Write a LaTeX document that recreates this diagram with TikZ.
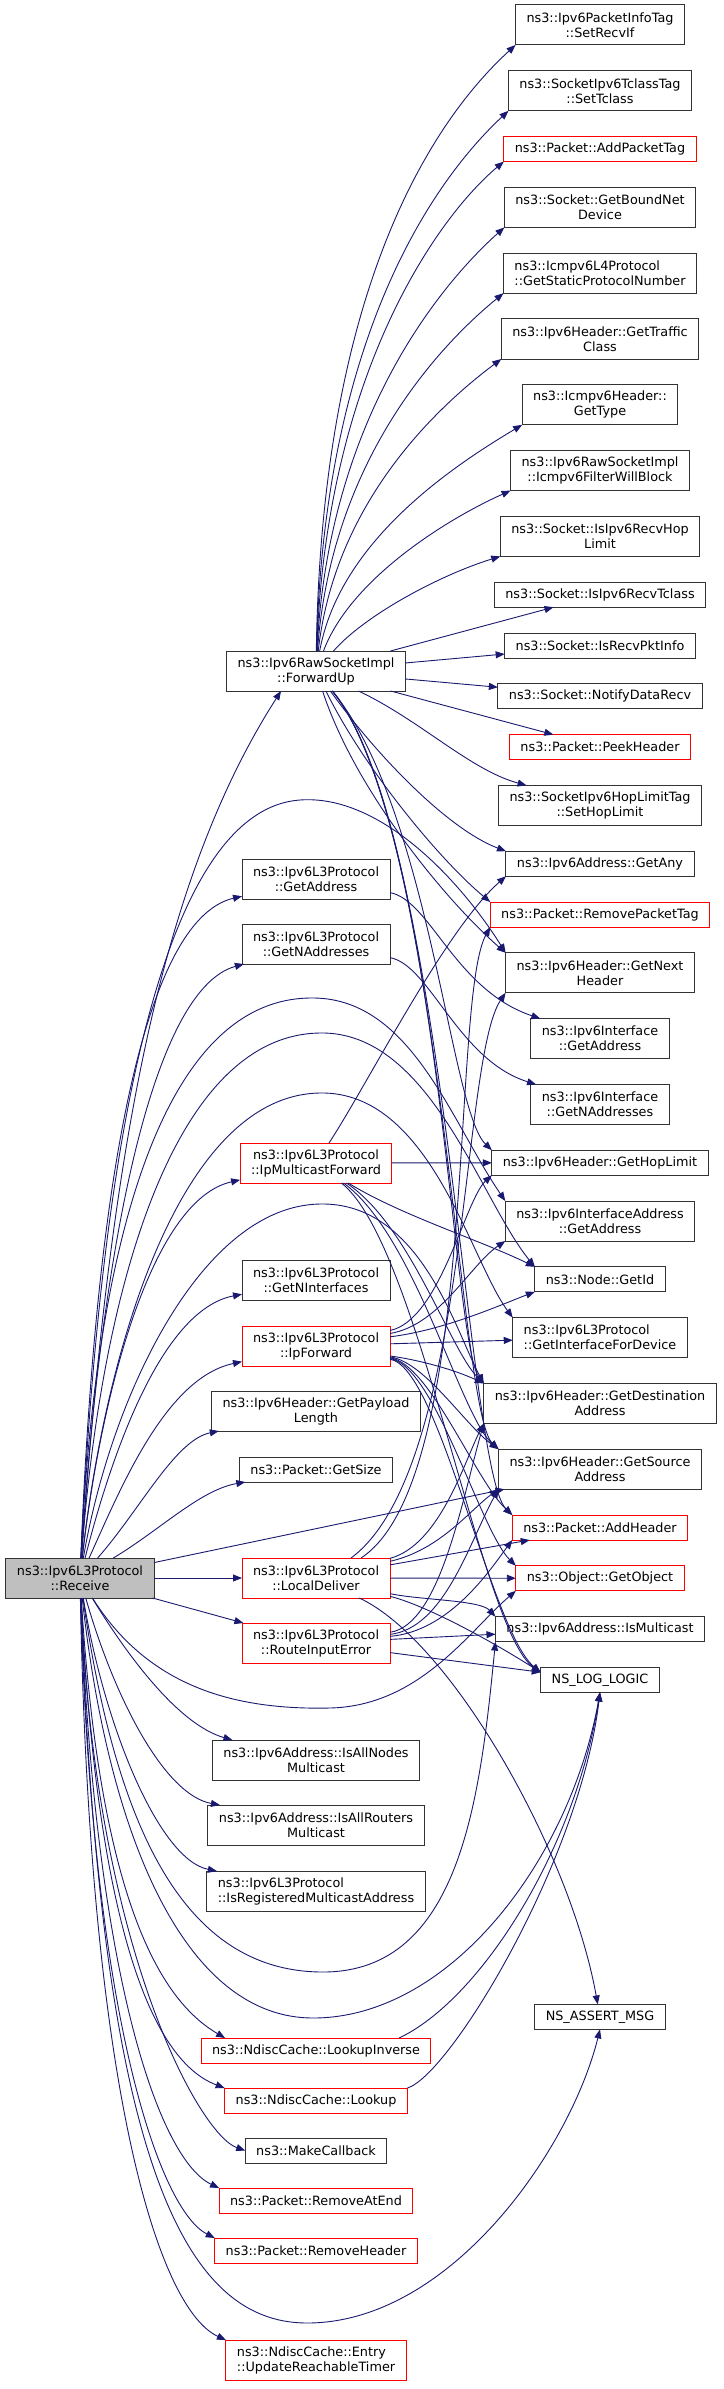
\documentclass[tikz,border=0pt]{standalone}
\usepackage{fontspec}
\setmainfont{DejaVu Sans}
\usepackage{xcolor}
\usepackage{tikz}
\usetikzlibrary{arrows.meta,positioning}
\definecolor{edgeblue}{HTML}{191970}
\definecolor{rootgrey}{HTML}{BFBFBF}

\begin{document}
\begin{tikzpicture}[x=1pt, y=-1pt, node distance=25.8pt,
  func/.style={rectangle, draw=black!80, fill=white, line width=1pt, outer sep=0pt, inner xsep=11pt, inner ysep=3pt, minimum height=25pt, align=center, font=\fontsize{12.8}{15}\selectfont},
  two/.style={minimum height=40pt},
  trunc/.style={draw=red},
  root/.style={fill=rootgrey},
  line/.style={draw=edgeblue, line width=0.9pt, -{Triangle[length=9pt, width=7pt]}}]

  \useasboundingbox (0,0) rectangle (723,2389);

  % Nodes
  \node [func, two, root] (recv) at (80,1578) {ns3::Ipv6L3Protocol\\::Receive};

  \node [func, two, trunc, right=88pt of recv] (localdeliver) {ns3::Ipv6L3Protocol\\::LocalDeliver};
  \node [func, above=76pt of localdeliver] (getsize) {ns3::Packet::GetSize};
  \node [func, two, above=26pt of getsize] (paylen) {ns3::Ipv6Header::GetPayload\\Length};
  \node [func, two, trunc, above=25pt of paylen] (ipfwd) {ns3::Ipv6L3Protocol\\::IpForward};
  \node [func, two, above=26pt of ipfwd] (nifaces) {ns3::Ipv6L3Protocol\\::GetNInterfaces};
  \node [func, two, trunc, above=77pt of nifaces] (mcastfwd) {ns3::Ipv6L3Protocol\\::IpMulticastForward};
  \node [func, two, above=179pt of mcastfwd] (l3naddr) {ns3::Ipv6L3Protocol\\::GetNAddresses};
  \node [func, two, above=25pt of l3naddr] (l3addr) {ns3::Ipv6L3Protocol\\::GetAddress};
  \node [func, two, above=168pt of l3addr] (fwdup) {ns3::Ipv6RawSocketImpl\\::ForwardUp};
  \node [func, two, trunc, below=25pt of localdeliver] (routeerr) {ns3::Ipv6L3Protocol\\::RouteInputError};
  \node [func, two, below=77pt of routeerr] (allnodes) {ns3::Ipv6Address::IsAllNodes\\Multicast};
  \node [func, two, below=25pt of allnodes] (allrouters) {ns3::Ipv6Address::IsAllRouters\\Multicast};
  \node [func, two, align=left, below=26pt of allrouters] (regmcast) {ns3::Ipv6L3Protocol\\::IsRegisteredMulticastAddress};
  \node [func, trunc, below=127pt of regmcast] (lookupinv) {ns3::NdiscCache::LookupInverse};
  \node [func, trunc, below=25pt of lookupinv] (lookup) {ns3::NdiscCache::Lookup};
  \node [func, below=25pt of lookup] (makecb) {ns3::MakeCallback};
  \node [func, trunc, below=25pt of makecb] (rmatend) {ns3::Packet::RemoveAtEnd};
  \node [func, trunc, below=25pt of rmatend] (rmheader) {ns3::Packet::RemoveHeader};
  \node [func, two, trunc, align=left, below=77pt of rmheader] (reachtimer) {ns3::NdiscCache::Entry\\::UpdateReachableTimer};

  \node [func, two] (setrecvif) at (600,25) {ns3::Ipv6PacketInfoTag\\::SetRecvIf};
  \node [func, two, below=of setrecvif] (settclass) {ns3::SocketIpv6TclassTag\\::SetTclass};
  \node [func, trunc, below=of settclass] (addtag) {ns3::Packet::AddPacketTag};
  \node [func, two, below=of addtag] (boundnet) {ns3::Socket::GetBoundNet\\Device};
  \node [func, two, align=left, below=of boundnet] (protonum) {ns3::Icmpv6L4Protocol\\::GetStaticProtocolNumber};
  \node [func, two, below=of protonum] (tclass) {ns3::Ipv6Header::GetTraffic\\Class};
  \node [func, two, below=of tclass] (icmptype) {ns3::Icmpv6Header::\\GetType};
  \node [func, two, below=of icmptype] (filterblock) {ns3::Ipv6RawSocketImpl\\::Icmpv6FilterWillBlock};
  \node [func, two, below=of filterblock] (recvhop) {ns3::Socket::IsIpv6RecvHop\\Limit};
  \node [func, below=of recvhop] (recvtclass) {ns3::Socket::IsIpv6RecvTclass};
  \node [func, below=of recvtclass] (pktinfo) {ns3::Socket::IsRecvPktInfo};
  \node [func, below=of pktinfo] (notifyrecv) {ns3::Socket::NotifyDataRecv};
  \node [func, trunc, below=of notifyrecv] (peekheader) {ns3::Packet::PeekHeader};
  \node [func, two, below=of peekheader] (sethoplimit) {ns3::SocketIpv6HopLimitTag\\::SetHopLimit};
  \node [func, below=of sethoplimit] (getany) {ns3::Ipv6Address::GetAny};
  \node [func, trunc, below=of getany] (rmtag) {ns3::Packet::RemovePacketTag};
  \node [func, two, below=of rmtag] (nextheader) {ns3::Ipv6Header::GetNext\\Header};
  \node [func, two, below=of nextheader] (ifaddr) {ns3::Ipv6Interface\\::GetAddress};
  \node [func, two, below=of ifaddr] (ifnaddr) {ns3::Ipv6Interface\\::GetNAddresses};
  \node [func, below=of ifnaddr] (hoplimit) {ns3::Ipv6Header::GetHopLimit};
  \node [func, two, below=of hoplimit] (ifaceaddr) {ns3::Ipv6InterfaceAddress\\::GetAddress};
  \node [func, below=of ifaceaddr] (getid) {ns3::Node::GetId};
  \node [func, two, align=left, below=of getid] (ifacefordev) {ns3::Ipv6L3Protocol\\::GetInterfaceForDevice};
  \node [func, two, below=of ifacefordev] (dstaddr) {ns3::Ipv6Header::GetDestination\\Address};
  \node [func, two, below=of dstaddr] (srcaddr) {ns3::Ipv6Header::GetSource\\Address};
  \node [func, trunc, below=of srcaddr] (addheader) {ns3::Packet::AddHeader};
  \node [func, trunc, below=of addheader] (getobject) {ns3::Object::GetObject};
  \node [func, below=of getobject] (ismcast) {ns3::Ipv6Address::IsMulticast};
  \node [func, below=of ismcast] (loglogic) {NS\_LOG\_LOGIC};
  \node [func, below=312pt of loglogic] (assertmsg) {NS\_ASSERT\_MSG};

  % Edges from Receive
  \path [line] (recv) .. controls (110,1150) and (160,880) .. ([xshift=-35pt]fwdup.south);
  \path [line] (recv) .. controls (95,1200) and (140,920) .. (l3addr);
  \path [line] (recv) .. controls (100,1260) and (150,990) .. (l3naddr);
  \path [line] (recv) .. controls (100,1400) and (150,1200) .. (mcastfwd);
  \path [line] (recv) .. controls (110,1460) and (160,1310) .. (nifaces);
  \path [line] (recv) .. controls (120,1490) and (165,1378) .. (ipfwd);
  \path [line] (recv) .. controls (140,1510) and (175,1440) .. (paylen);
  \path [line] (recv) .. controls (160,1530) and (200,1490) .. (getsize);
  \path [line] (recv) -- (localdeliver);
  \path [line] (recv) -- (routeerr);
  \path [line] (recv) .. controls (130,1660) and (180,1725) .. ([xshift=20pt]allnodes.north west);
  \path [line] (recv) .. controls (115,1700) and (165,1795) .. ([xshift=12pt]allrouters.north west);
  \path [line] (recv) .. controls (105,1730) and (160,1860) .. ([xshift=10pt]regmcast.north west);
  \path [line] (recv) .. controls (100,1900) and (160,2000) .. ([xshift=24pt]lookupinv.north west);
  \path [line] (recv) .. controls (97,1920) and (150,2060) .. (lookup.north west);
  \path [line] (recv) .. controls (95,1950) and (200,2135) .. (makecb.west);
  \path [line] (recv) .. controls (95,1980) and (160,2160) .. (rmatend.north west);
  \path [line] (recv) .. controls (92,2020) and (160,2210) .. (rmheader.north west);
  \path [line] (recv) .. controls (90,2100) and (160,2310) .. (reachtimer.north west);

  \path [line] (recv) .. controls (100,1150) and (160,810) .. (300,800) .. controls (380,794) and (460,880) .. (nextheader.north west);
  \path [line] (recv) .. controls (95,1250) and (160,1000) .. (310,998) .. controls (410,996) and (450,1120) .. (ifaceaddr.north west);
  \path [line] (recv) .. controls (100,1300) and (170,1035) .. (320,1033) .. controls (430,1031) and (480,1200) .. (getid.north west);
  \path [line] (recv) .. controls (105,1350) and (180,1095) .. (320,1093) .. controls (430,1091) and (470,1260) .. (ifacefordev.north west);
  \path [line] (recv) .. controls (110,1400) and (200,1206) .. (320,1204) .. controls (420,1202) and (455,1330) .. (dstaddr.north west);
  \path [line] (recv) -- (srcaddr);
  \path [line] (recv) .. controls (150,1690) and (240,1710) .. (330,1708) .. controls (420,1706) and (470,1630) .. (getobject.south west);
  \path [line] (recv) .. controls (115,1820) and (180,1972) .. (323,1972) .. controls (460,1972) and (480,1800) .. (ismcast.south west);
  \path [line] (recv) .. controls (110,1850) and (190,2018) .. (313,2018) .. controls (450,2018) and (570,1860) .. (loglogic.south);
  \path [line] (recv) .. controls (100,2150) and (180,2323) .. (307,2323) .. controls (450,2323) and (570,2150) .. (assertmsg.south);

  % Edges from ForwardUp
  \path [line] (fwdup) .. controls (322,260) and (450,105) .. (setrecvif.south west);
  \path [line] (fwdup) .. controls (324,320) and (445,170) .. (settclass.south west);
  \path [line] (fwdup) .. controls (326,370) and (440,215) .. (addtag.south west);
  \path [line] (fwdup) .. controls (328,420) and (440,285) .. (boundnet.south west);
  \path [line] (fwdup) .. controls (331,460) and (440,345) .. (protonum.south west);
  \path [line] (fwdup) .. controls (335,500) and (440,405) .. (tclass.south west);
  \path [line] (fwdup) .. controls (340,540) and (455,465) .. (icmptype.south west);
  \path [line] (fwdup) .. controls (350,580) and (445,520) .. (filterblock.south west);
  \path [line] (fwdup) .. controls (365,615) and (440,575) .. (recvhop.south west);
  \path [line] (fwdup) -- (recvtclass);
  \path [line] (fwdup) -- (pktinfo);
  \path [line] (fwdup) -- (notifyrecv);
  \path [line] (fwdup) -- (peekheader);
  \path [line] (fwdup) .. controls (420,720) and (470,770) .. (sethoplimit);
  \path [line] (fwdup) .. controls (380,760) and (450,830) .. (getany.north west);
  \path [line] (fwdup) .. controls (365,770) and (440,860) .. (rmtag.north west);
  \path [line] (fwdup) .. controls (355,790) and (445,900) .. (nextheader.north west);
  \path [line] (fwdup) .. controls (430,810) and (450,1110) .. (hoplimit.north west);
  \path [line] (fwdup) .. controls (438,820) and (452,1340) .. (dstaddr.north west);
  \path [line] (fwdup) .. controls (442,825) and (458,1410) .. (srcaddr.north west);
  \path [line] (fwdup) .. controls (446,830) and (466,1470) .. (addheader.north west);

  % Edges from the other callers
  \path [line] (l3addr) .. controls (430,900) and (455,990) .. (ifaddr);
  \path [line] (l3naddr) .. controls (430,965) and (458,1060) .. (ifnaddr);

  \path [line] (mcastfwd) -- (hoplimit);
  \path [line] (mcastfwd) .. controls (370,1080) and (445,930) .. (getany.south west);
  \path [line] (mcastfwd) .. controls (400,1215) and (480,1240) .. (getid.north west);
  \path [line] (mcastfwd) .. controls (410,1225) and (450,1350) .. (dstaddr.north west);
  \path [line] (mcastfwd) .. controls (415,1235) and (460,1415) .. (srcaddr.north west);
  \path [line] (mcastfwd) .. controls (420,1245) and (480,1630) .. ([yshift=-5pt]loglogic.north west);

  \path [line] (ipfwd) .. controls (440,1320) and (465,1200) .. (hoplimit.south west);
  \path [line] (ipfwd) .. controls (440,1325) and (470,1265) .. (ifaceaddr.south west);
  \path [line] (ipfwd) .. controls (445,1330) and (500,1305) .. (getid.south west);
  \path [line] (ipfwd) -- (ifacefordev);
  \path [line] (ipfwd) .. controls (420,1360) and (455,1370) .. (dstaddr.north west);
  \path [line] (ipfwd) .. controls (425,1362) and (465,1425) .. (srcaddr.north west);
  \path [line] (ipfwd) .. controls (430,1364) and (475,1480) .. (addheader.north west);
  \path [line] (ipfwd) .. controls (435,1366) and (480,1530) .. (getobject.north west);
  \path [line] (ipfwd) .. controls (440,1368) and (490,1630) .. ([yshift=-5pt]loglogic.north west);

  \path [line] ([xshift=35pt]localdeliver.north) .. controls (470,1470) and (460,1060) .. (nextheader.south west);
  \path [line] ([xshift=45pt]localdeliver.north) .. controls (480,1480) and (450,1000) .. (rmtag.south west);
  \path [line] (localdeliver) .. controls (440,1545) and (465,1460) .. (dstaddr.south west);
  \path [line] (localdeliver) .. controls (440,1550) and (470,1510) .. (srcaddr.south west);
  \path [line] (localdeliver) -- (addheader);
  \path [line] (localdeliver) -- (getobject);
  \path [line] (localdeliver) .. controls (420,1600) and (480,1600) .. (ismcast.north west);
  \path [line] (localdeliver) .. controls (425,1605) and (490,1640) .. ([yshift=-5pt]loglogic.north west);
  \path [line] (localdeliver) .. controls (450,1640) and (570,1850) .. (assertmsg);

  \path [line] (routeerr) .. controls (440,1625) and (462,1500) .. (dstaddr.south west);
  \path [line] (routeerr) .. controls (445,1628) and (470,1540) .. (srcaddr.south west);
  \path [line] (routeerr) .. controls (450,1631) and (490,1570) .. (addheader.south west);
  \path [line] (routeerr) -- (ismcast);
  \path [line] (routeerr) -- (loglogic);

  \path [line] ([xshift=83pt]lookupinv.north) .. controls (480,2000) and (575,1850) .. (loglogic.south);
  \path [line] (lookup.north east) .. controls (450,2075) and (580,1860) .. (loglogic.south);

\end{tikzpicture}
\end{document}
